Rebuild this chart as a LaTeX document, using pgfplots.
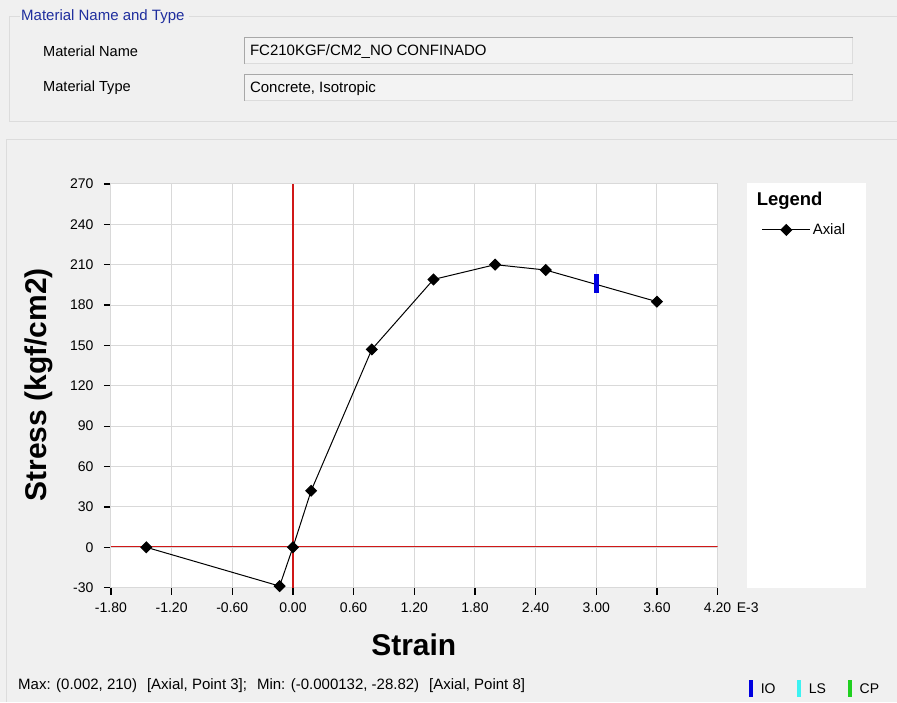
\documentclass[border=0pt]{standalone}
\usepackage{fontspec}
\setmainfont{Liberation Sans}
\usepackage{pgfplots}
\pgfplotsset{compat=1.18}

\definecolor{bg}{HTML}{F0F0F0}
\definecolor{gridc}{HTML}{D9D9D9}
\definecolor{boxc}{HTML}{DCDCDC}
\definecolor{fieldc}{HTML}{A8A8A8}
\definecolor{redax}{HTML}{D01818}
\definecolor{grpblue}{HTML}{1F2E9E}
\definecolor{io}{HTML}{0000E0}
\definecolor{ls}{HTML}{3CF2F2}
\definecolor{cp}{HTML}{20D020}

\newcommand\fs[1]{\fontsize{#1}{#1}\selectfont}

\begin{document}
\begin{tikzpicture}
% dialog frame, pixel coordinates (y down)
\begin{scope}[yshift=702pt, x=1pt, y=-1pt]
  \fill[bg] (0,0) rectangle (897,702);
  % group box
  \draw[boxc, line width=1pt] (20,17) -- (10,17) -- (10,122) -- (897,122);
  \draw[boxc, line width=1pt] (189,17) -- (897,17);
  \node[anchor=west, inner sep=0pt, text=grpblue, font=\fs{15}] at (21,17) {Material Name and Type};
  \node[anchor=west, inner sep=0pt, font=\fs{14.6}] at (43,51) {Material Name};
  \node[anchor=west, inner sep=0pt, font=\fs{14.6}] at (43,88) {Material Type};
  \fill[bg!80!white] (245,38) rectangle (853,64);
  \draw[fieldc, line width=1pt] (245,64) -- (245,38) -- (853,38);
  \draw[boxc, line width=1pt] (853,38) -- (853,64) -- (245,64);
  \fill[bg!80!white] (245,75) rectangle (853,101);
  \draw[fieldc, line width=1pt] (245,101) -- (245,75) -- (853,75);
  \draw[boxc, line width=1pt] (853,75) -- (853,101) -- (245,101);
  \node[anchor=west, inner sep=0pt, font=\fs{15}] at (250,52) {FC210KGF/CM2\_NO CONFINADO};
  \node[anchor=west, inner sep=0pt, font=\fs{15}] at (250,89) {Concrete, Isotropic};
  % chart panel
  \draw[boxc, line width=1pt] (7,702) -- (7,140) -- (897,140);
  % legend box
  \fill[white] (747,183) rectangle (866,588);
  \node[anchor=west, inner sep=0pt, font=\bfseries\fs{18.5}] at (757,201) {Legend};
  % axis labels
  \node[font=\bfseries\fs{30}] at (414,645) {Strain};
  \node[rotate=90, font=\bfseries\fs{30}] at (39,385) {Stress (kgf/cm2)};
  \node[anchor=west, inner sep=0pt, font=\fs{14}] at (737,608) {E-3};
  % status bar
  \node[anchor=west, inner sep=0pt, font=\fs{15}] at (18,686)
    {Max: (0.002, 210)\hspace{10pt}[Axial, Point 3];\hspace{10pt}Min: (-0.000132, -28.82)\hspace{10pt}[Axial, Point 8]};
  \fill[io] (749,680) rectangle (753,697);
  \node[anchor=west, inner sep=0pt, font=\fs{14}] at (761,689) {IO};
  \fill[ls] (797,680) rectangle (801,697);
  \node[anchor=west, inner sep=0pt, font=\fs{14}] at (809,689) {LS};
  \fill[cp] (848,680) rectangle (852,697);
  \node[anchor=west, inner sep=0pt, font=\fs{14}] at (860,689) {CP};
\end{scope}

\begin{axis}[
    at={(111pt,114pt)}, anchor=south west,
    scale only axis, width=607pt, height=404pt,
    xmin=-1.8, xmax=4.2, ymin=-30, ymax=270,
    xtick={-1.8,-1.2,-0.6,0,0.6,1.2,1.8,2.4,3.0,3.6,4.2},
    xticklabels={-1.80,-1.20,-0.60,0.00,0.60,1.20,1.80,2.40,3.00,3.60,4.20},
    ytick={-30,0,30,60,90,120,150,180,210,240,270},
    yticklabels={-30,0,30,60,90,120,150,180,210,240,270},
    /pgf/number format/assume math mode=true,
    grid=major, grid style={gridc, line width=1pt},
    axis line style={gridc, line width=1pt},
    axis background/.style={fill=white},
    tick align=outside, major tick length=7pt,
    tick style={black, line width=1.3pt},
    xtick pos=bottom, ytick pos=left,
    tick label style={font=\fs{14}},
    yticklabel style={xshift=-7pt},
    xticklabel style={yshift=-5pt},
    legend style={at={(axis description cs:1.0725,0.886)}, anchor=west,
        draw=none, fill=none, inner sep=0pt, font=\fs{15}},
    legend image code/.code={\draw[mark repeat=2, mark phase=2]
        plot coordinates {(0pt,0pt) (24pt,0pt) (48pt,0pt)};},
]
% zero lines
\addplot[draw=redax, line width=1.2pt, forget plot, mark=none] coordinates {(-1.8,0.4) (4.2,0.4)};
\addplot[draw=redax, line width=1.2pt, forget plot, mark=none] coordinates {(0,-30) (0,270)};

\addplot[black, line width=1pt, mark=square*,
    mark options={rotate=45, solid}, mark size=3.8pt]
    coordinates {(3.6,182.5) (2.5,206) (2.0,210) (1.39,199) (0.78,147)
                 (0.18,42) (0,0) (-0.132,-28.82) (-1.45,0)};
\addlegendentry{Axial}

% IO marker
\addplot[only marks, mark=|, mark size=9.5pt, forget plot,
    mark options={io, line width=5pt}] coordinates {(3.0,195.7)};
\end{axis}
\end{tikzpicture}
\end{document}
